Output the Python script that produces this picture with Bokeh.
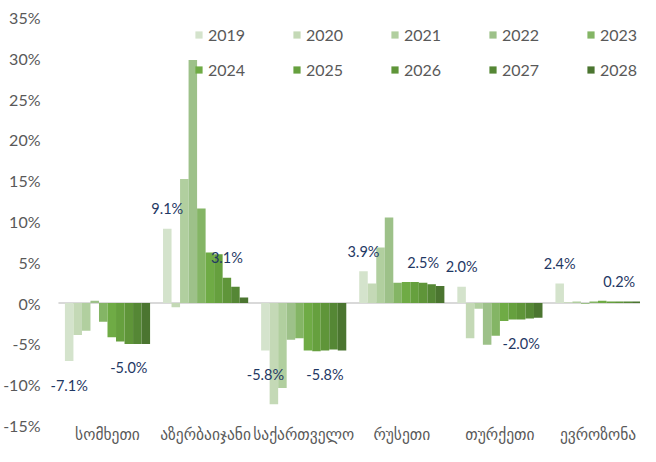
from bokeh.plotting import figure
from bokeh.models import (Range1d, FixedTicker, PrintfTickFormatter, Legend,
                          LegendItem, ColumnDataSource, LabelSet)
from bokeh.core.properties import value
from bokeh.embed import file_html
from bokeh.resources import INLINE

countries = ["სომხეთი", "აზერბაიჯანი", "საქართველო", "რუსეთი", "თურქეთი", "ევროზონა"]
years = ["2019", "2020", "2021", "2022", "2023", "2024", "2025", "2026", "2027", "2028"]

v2019 = [-7.1, 9.1, -5.8, 3.9, 2.0, 2.4]
v2020 = [-3.9, -0.5, -12.4, 2.4, -4.3, 0.1]
v2021 = [-3.4, 15.2, -10.4, 6.8, -0.7, 0.2]
v2022 = [0.3, 29.8, -4.5, 10.5, -5.1, -0.1]
v2023 = [-2.3, 11.6, -4.3, 2.5, -4.0, 0.2]
v2024 = [-4.2, 6.2, -5.8, 2.6, -2.2, 0.3]
v2025 = [-4.7, 6.0, -5.9, 2.6, -2.0, 0.2]
v2026 = [-5.0, 3.1, -5.8, 2.5, -2.0, 0.2]
v2027 = [-5.0, 2.0, -5.7, 2.3, -1.9, 0.2]
v2028 = [-5.0, 0.7, -5.8, 2.1, -1.8, 0.2]
series = [v2019, v2020, v2021, v2022, v2023, v2024, v2025, v2026, v2027, v2028]

colors = ["#d4e3cc", "#c4d9b6", "#b1cf9f", "#9dc189", "#84b565",
          "#6fab45", "#66a03e", "#5f9539", "#558735", "#4b7530"]

labelled_years = ["2019", "2026"]

y_ticks = [-15, -10, -5, 0, 5, 10, 15, 20, 25, 30, 35]

BAR_W = 0.0868
GROUP_PX = 98.6
FONT = "Lato"

p = figure(width=640, height=446, output_backend="svg", toolbar_location=None,
           x_range=Range1d(-0.5 - 10 / GROUP_PX, -0.5 + 585 / GROUP_PX),
           y_range=Range1d(-15, 35),
           min_border_left=45, min_border_right=0, min_border_top=17, min_border_bottom=18)
p.outline_line_color = None
p.xgrid.visible = False
p.ygrid.visible = False

idx = list(range(len(countries)))
n = len(countries)
p.segment(x0=[-0.5], x1=[n - 0.5], y0=[0], y1=[0], line_color="#d9d9d9", line_width=2)

renderers = []
for j, (yr, vals) in enumerate(zip(years, series)):
    xs = [i + (j - 4.5) * BAR_W for i in idx]
    src = ColumnDataSource(dict(x=xs, top=vals))
    r = p.vbar(x="x", top="top", bottom=0, width=BAR_W, source=src,
               fill_color=colors[j], line_color=None)
    renderers.append(r)

# data labels
for yr in labelled_years:
    j = years.index(yr)
    vals = series[j]
    xs = [i + (j - 4.5) * BAR_W for i in idx]
    pos = [k for k in idx if vals[k] >= 0]
    neg = [k for k in idx if vals[k] < 0]
    for sel, off in ((pos, 20), (neg, -24)):
        src = ColumnDataSource(dict(x=[xs[k] for k in sel], y=[vals[k] for k in sel],
                                    t=["%.1f%%" % vals[k] for k in sel]))
        p.add_layout(LabelSet(x="x", y="y", text="t", source=src, y_offset=off,
                              text_align="center", text_baseline="middle",
                              text_font=value(FONT), text_font_size=value("14.5px"),
                              text_color=value("#1f3864")))

# axes
p.yaxis.ticker = FixedTicker(ticks=y_ticks)
p.yaxis.formatter = PrintfTickFormatter(format="%d%%")
p.yaxis.axis_line_color = None
p.yaxis.major_tick_line_color = None
p.yaxis.minor_tick_line_color = None
p.yaxis.major_tick_out = 0
p.yaxis.major_label_standoff = 8
p.yaxis.major_label_text_font = FONT
p.yaxis.major_label_text_font_size = "16px"
p.yaxis.major_label_text_color = "#595959"

p.xaxis.ticker = FixedTicker(ticks=idx)
p.xaxis.major_label_overrides = {i: c for i, c in zip(idx, countries)}
p.xaxis.axis_line_color = None
p.xaxis.major_tick_line_color = None
p.xaxis.minor_tick_line_color = None
p.xaxis.major_tick_out = 0
p.xaxis.major_tick_in = 0
p.xaxis.major_label_standoff = 0
p.xaxis.major_label_text_font = "DejaVu Sans"
p.xaxis.major_label_text_font_size = "15.5px"
p.xaxis.major_label_text_color = "#595959"

# legend in two rows
for row, (lo, hi, y) in enumerate(((0, 5, 381), (5, 10, 346))):
    items = [LegendItem(label=years[k], renderers=[renderers[k]]) for k in range(lo, hi)]
    lg = Legend(items=items, orientation="horizontal", location=(146, y),
                padding=0, margin=0, spacing=14, label_width=70, label_height=20,
                glyph_width=9, glyph_height=9, label_standoff=5,
                label_text_font=FONT, label_text_font_size="16px",
                label_text_color="#595959", border_line_color=None,
                background_fill_alpha=0)
    p.add_layout(lg)

open("out.html", "w").write(file_html(p, INLINE))
